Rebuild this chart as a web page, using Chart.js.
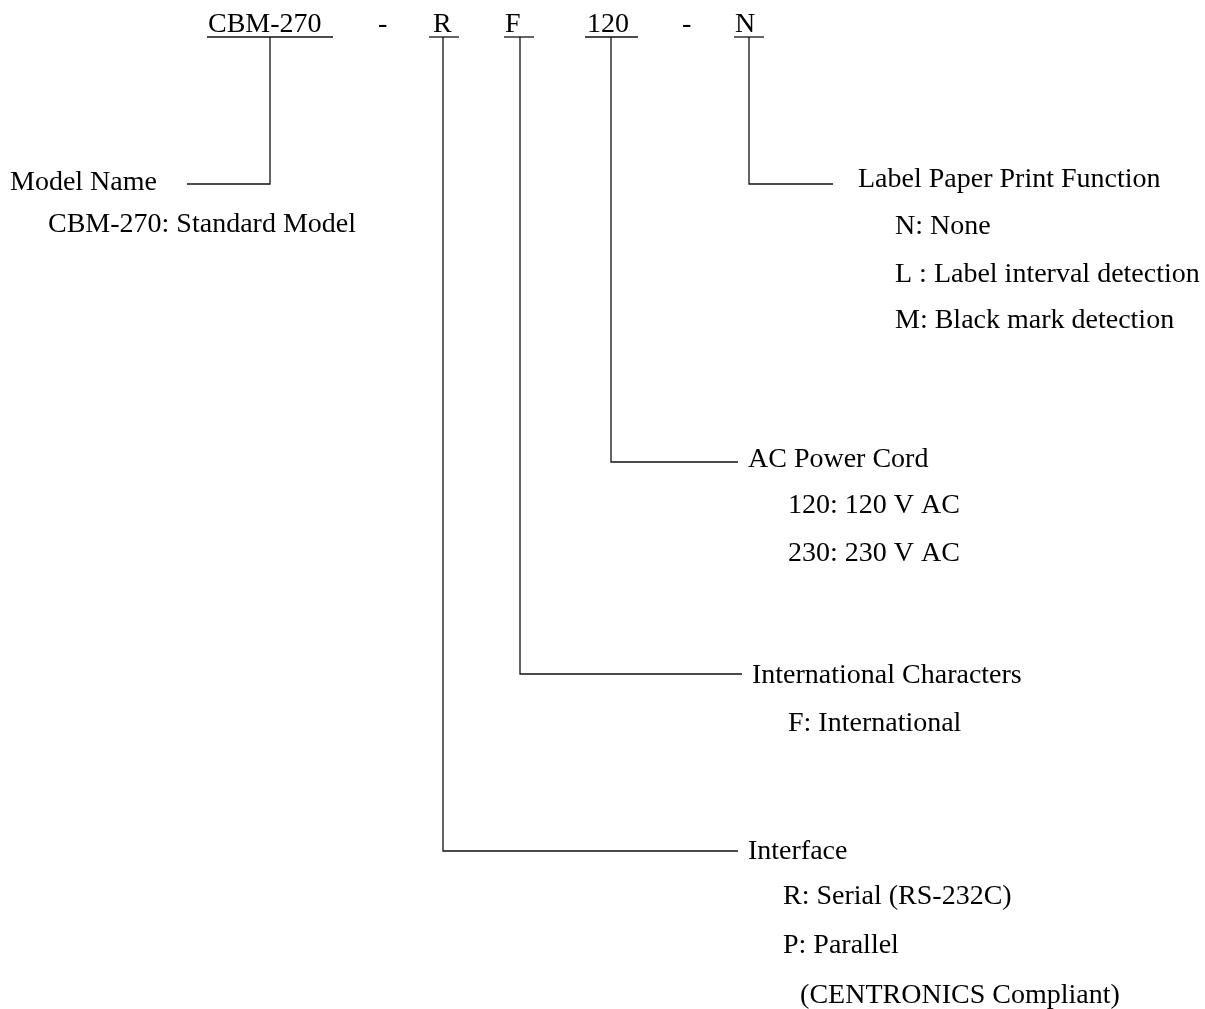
<!DOCTYPE html>
<html lang="en">
<head>
    <meta charset="UTF-8">
    <title>CBM-270 Model Number Breakdown</title>
    <style>
        html, body { margin: 0; padding: 0; background: #fff; }
        .chart-container { width: 1205px; height: 1009px; position: relative; }
    </style>
    <script src="https://cdn.jsdelivr.net/npm/chart.js"></script>
</head>
<body>
    <div class="chart-container">
        <canvas id="diagram"></canvas>
    </div>

    <script>
        // Model code parts along the top row
        const codeParts = ['CBM-270', '-', 'R', 'F', '120', '-', 'N'];
        const codeX = [208, 378, 433, 505, 587, 682, 735];
        const codeUnderline = [[207, 333], null, [429, 459], [504, 534], [585, 638], null, [734, 764]];
        const codeBaseline = 32;
        const underlineY = 37;

        // Each field: branch line from its code part down to the label
        const fieldNames = ['Model Name', 'Interface', 'International Characters', 'AC Power Cord', 'Label Paper Print Function'];
        const branchX = [270, 443, 520, 611, 749];
        const branchY = [184, 851, 674, 462, 184];
        const branchEndX = [187, 738, 742, 738, 833];
        const nameX = [10, 748, 752, 748, 858];
        const nameBaseline = [190, 859, 683, 467, 187];

        // Options listed under each field name
        const fieldOptions = [
            ['CBM-270: Standard Model'],
            ['R: Serial (RS-232C)', 'P: Parallel', '   (CENTRONICS Compliant)'],
            ['F: International'],
            ['120: 120 V AC', '230: 230 V AC'],
            ['N: None', 'L : Label interval detection', 'M: Black mark detection']
        ];
        const optionX = [48, 783, 788, 788, 895];
        const optionBaselines = [
            [232],
            [904, 953, 1003],
            [731],
            [513, 561],
            [234, 282, 328]
        ];

        const FONT = '28px "Liberation Serif", "Times New Roman", serif';

        // Line datasets: underlines and branch connectors
        const datasets = [];
        codeUnderline.forEach(u => {
            if (!u) return;
            datasets.push({ data: [{ x: u[0], y: underlineY }, { x: u[1], y: underlineY }] });
        });
        branchX.forEach((bx, i) => {
            datasets.push({
                data: [
                    { x: bx, y: underlineY },
                    { x: bx, y: branchY[i] },
                    { x: branchEndX[i], y: branchY[i] }
                ]
            });
        });
        datasets.forEach(d => {
            d.showLine = true;
            d.borderColor = '#111';
            d.borderWidth = 1.3;
            d.pointRadius = 0;
            d.tension = 0;
            d.fill = false;
        });

        // Draws all the text through the chart's scales
        const textPlugin = {
            id: 'diagramText',
            afterDatasetsDraw(chart) {
                const { ctx, scales: { x, y } } = chart;
                ctx.save();
                ctx.font = FONT;
                ctx.fillStyle = '#000';
                ctx.textBaseline = 'alphabetic';
                ctx.textAlign = 'left';
                codeParts.forEach((t, i) => {
                    ctx.fillText(t, x.getPixelForValue(codeX[i]), y.getPixelForValue(codeBaseline));
                });
                fieldNames.forEach((t, i) => {
                    ctx.fillText(t, x.getPixelForValue(nameX[i]), y.getPixelForValue(nameBaseline[i]));
                    fieldOptions[i].forEach((opt, j) => {
                        const lead = opt.match(/^ */)[0].length;
                        const ox = optionX[i] + lead * 5.7;
                        ctx.fillText(opt.trim(), x.getPixelForValue(ox), y.getPixelForValue(optionBaselines[i][j]));
                    });
                });
                ctx.restore();
            }
        };

        const ctx = document.getElementById('diagram').getContext('2d');
        new Chart(ctx, {
            type: 'scatter',
            data: { datasets },
            options: {
                responsive: true,
                maintainAspectRatio: false,
                animation: false,
                layout: { padding: 0 },
                plugins: {
                    legend: { display: false },
                    tooltip: { enabled: false }
                },
                scales: {
                    x: { type: 'linear', min: 0, max: 1205, display: false },
                    y: { type: 'linear', min: 0, max: 1009, reverse: true, display: false }
                }
            },
            plugins: [textPlugin]
        });
    </script>
</body>
</html>
